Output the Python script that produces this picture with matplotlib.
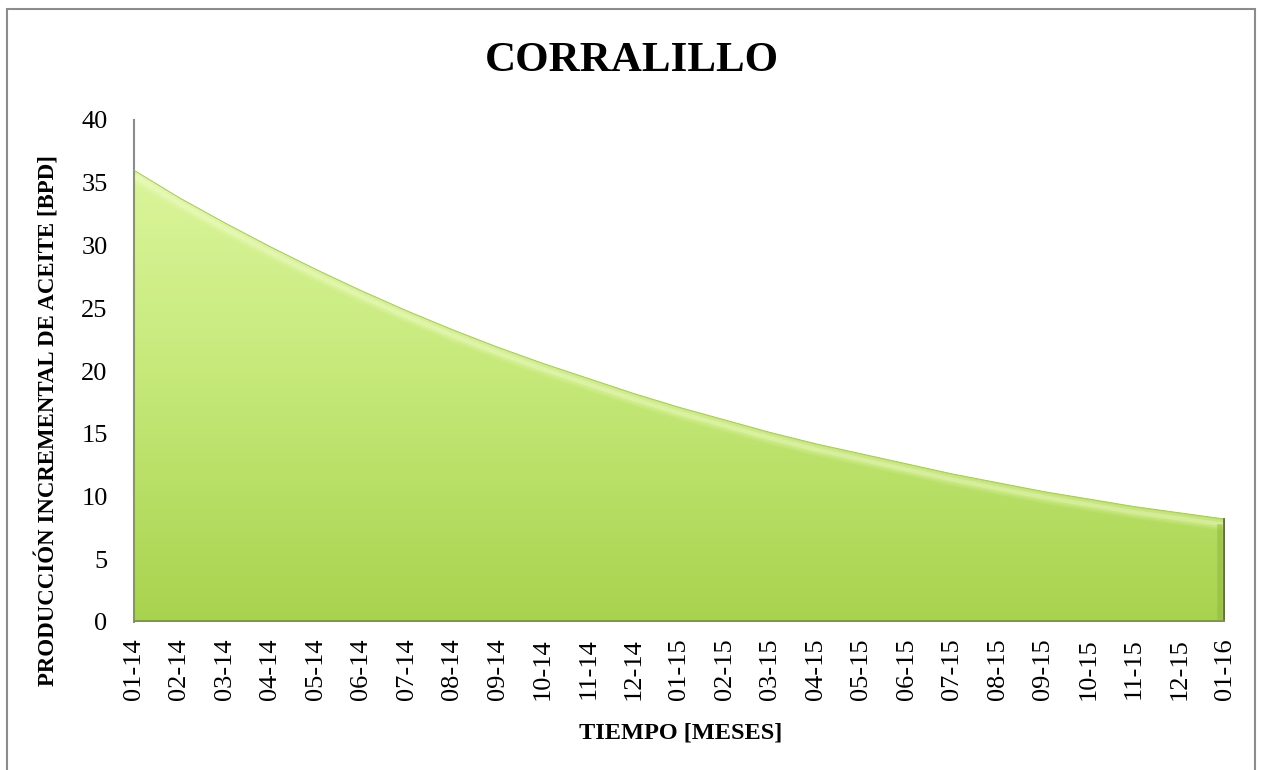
import matplotlib.pyplot as plt
import numpy as np
from matplotlib.patches import Polygon, Rectangle
from matplotlib.colors import LinearSegmentedColormap

# Monthly labels and incremental oil production (BPD)
meses = ["01-14", "02-14", "03-14", "04-14", "05-14", "06-14", "07-14", "08-14",
         "09-14", "10-14", "11-14", "12-14", "01-15", "02-15", "03-15", "04-15",
         "05-15", "06-15", "07-15", "08-15", "09-15", "10-15", "11-15", "12-15",
         "01-16"]
produccion = [36.0, 33.8, 31.8, 29.9, 28.1, 26.4, 24.8, 23.3, 21.9, 20.6, 19.4,
              18.2, 17.1, 16.1, 15.1, 14.2, 13.4, 12.6, 11.8, 11.1, 10.4, 9.8,
              9.2, 8.7, 8.2]
y_ticks = [0, 5, 10, 15, 20, 25, 30, 35, 40]

FONT = "Liberation Serif"

fig = plt.figure(figsize=(12.62, 7.70), dpi=100)
fig.patch.set_facecolor("white")

# outer chart frame
fig.patches.append(Rectangle((7 / 1262, -0.01), 1248 / 1262, 1.0 - 9 / 770 + 0.01,
                             transform=fig.transFigure, fill=False,
                             edgecolor="#8c8c8c", linewidth=1.5))

ax = fig.add_axes([134 / 1262, 1 - 622 / 770, (1225 - 134) / 1262, (622 - 120) / 770])

x = np.arange(len(meses))
y = np.array(produccion)

# gradient fill clipped to the area under the curve
verts = [(x[0], 0)] + list(zip(x, y)) + [(x[-1], 0)]
area = Polygon(verts, closed=True, facecolor="none", edgecolor="none")
ax.add_patch(area)
cmap = LinearSegmentedColormap.from_list("verde", ["#a8d34e", "#c6e97a", "#e0f8a4"])
grad = np.linspace(0, 1, 256).reshape(-1, 1)
img = ax.imshow(grad, extent=[x[0], x[-1], 0, 40], origin="lower", aspect="auto",
                cmap=cmap, vmin=0, vmax=1, zorder=1)
img.set_clip_path(area)

# bevel: soft glow along the top, shading on the right and bottom edges
for lw, a in [(9, 0.12), (6, 0.18), (3, 0.3)]:
    glow, = ax.plot(x, y - 0.45, color="#f6ffd2", linewidth=lw, alpha=a, zorder=2,
                    solid_capstyle="butt")
    glow.set_clip_path(area)
ax.plot(x, y, color="#a9c46a", linewidth=0.7, zorder=3)
ax.plot([x[-1] - 0.015, x[-1] - 0.015], [0.15, y[-1]], color="#5c7a22",
        linewidth=2, zorder=3)
ax.plot([x[-1] - 0.12, x[-1] - 0.12], [0.4, y[-1] - 0.6], color="#8fb53e",
        linewidth=4, alpha=0.5, zorder=2)
ax.plot([x[0], x[-1]], [0.08, 0.08], color="#7d9448", linewidth=2, zorder=3)

ax.set_xlim(x[0], x[-1])
ax.set_ylim(0, 40)
ax.set_yticks(y_ticks)
ax.set_yticklabels([str(t) for t in y_ticks], fontfamily=FONT, fontsize=19)
ax.set_xticks(x)
ax.set_xticklabels(meses, rotation=90, fontfamily=FONT, fontsize=19)
ax.tick_params(axis="both", length=0)
ax.tick_params(axis="y", pad=19)
ax.tick_params(axis="x", pad=12)

for s in ["top", "right", "bottom"]:
    ax.spines[s].set_visible(False)
ax.spines["left"].set_color("#8c8c8c")
ax.spines["left"].set_linewidth(1.5)
ax.set_facecolor("none")

fig.text(681 / 1262, 1 - 733 / 770, "TIEMPO [MESES]", ha="center", va="center",
         fontfamily=FONT, fontweight="bold", fontsize=17.5)
fig.text(48 / 1262, 1 - 421 / 770, "PRODUCCIÓN INCREMENTAL DE ACEITE [BPD]",
         rotation=90, ha="center", va="center", fontfamily=FONT,
         fontweight="bold", fontsize=16.5)
fig.text(632 / 1262, 1 - 61 / 770, "CORRALILLO", ha="center", va="center",
         fontfamily=FONT, fontweight="bold", fontsize=31)

fig.savefig("out.png", dpi=100, facecolor="white")
